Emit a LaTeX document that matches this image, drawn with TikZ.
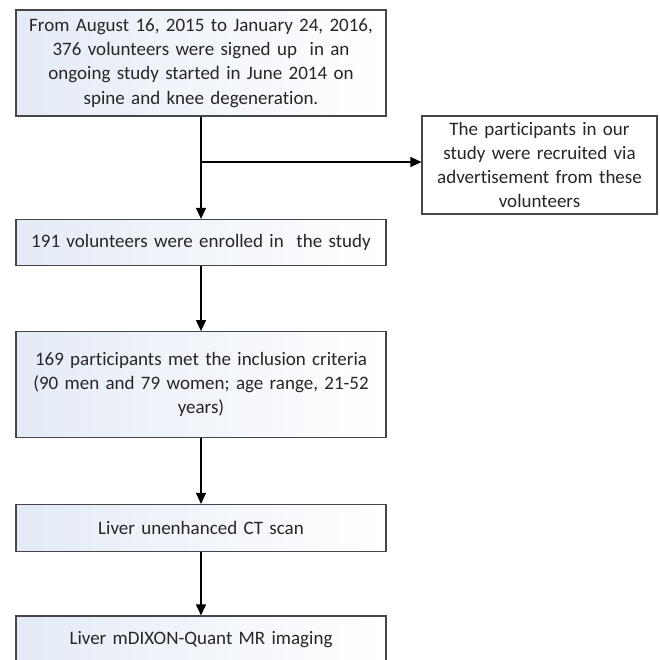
\documentclass[tikz,border=0pt]{standalone}
\usepackage{fontspec}
\setmainfont[Ligatures=NoCommon]{Carlito}
\usetikzlibrary{arrows.meta, positioning}

\definecolor{boxline}{RGB}{70,70,70}
\definecolor{boxfill}{RGB}{228,235,246}

\begin{document}
\begin{tikzpicture}[x=1pt, y=-1pt,
    stage/.style={draw=boxline, line width=1.2pt, left color=boxfill, right color=white,
        minimum width=370pt, text width=362pt, align=center, inner sep=0pt,
        font=\fontsize{19}{24.2}\selectfont, text=black!85},
    note/.style={stage, left color=white, minimum width=235pt, text width=228pt},
    flow/.style={line width=1.2pt, -{Triangle[length=11pt, width=10pt]}}]
    \useasboundingbox (0, 0) rectangle (660, 659);
    \clip (0, 0) rectangle (660, 659);

    \node[stage, minimum height=106pt] (S0) at (201, 63)
        {From August 16, 2015 to January 24, 2016,\\ 376 volunteers were signed up\ \ in an\\ ongoing study started in June 2014 on\\ spine and knee degeneration.};
    \node[note, minimum height=98pt] (N0) at (539.5, 165)
        {The participants in our\\ study were recruited via\\ advertisement from these\\ volunteers};
    \node[stage, minimum height=46pt] (S1) at (201, 242.5)
        {191 volunteers were enrolled in\ \ the study};
    \node[stage, minimum height=106pt] (S2) at (201, 384.7)
        {169 participants met the inclusion criteria\\ (90 men and 79 women; age range, 21-52\\ years)};
    \node[stage, minimum height=47pt] (S3) at (201, 528)
        {Liver unenhanced CT scan};
    \node[stage, minimum height=47pt] (S4) at (201, 639.5)
        {Liver mDIXON-Quant MR imaging};

    \coordinate (split) at (201, 162);

    \draw[flow] (S0.south) -- (S1.north);
    \draw[flow] (split) -- (split -| N0.west);
    \draw[flow] (S1.south) -- (S2.north);
    \draw[flow] (S2.south) -- (S3.north);
    \draw[flow] (S3.south) -- (S4.north);
\end{tikzpicture}
\end{document}
